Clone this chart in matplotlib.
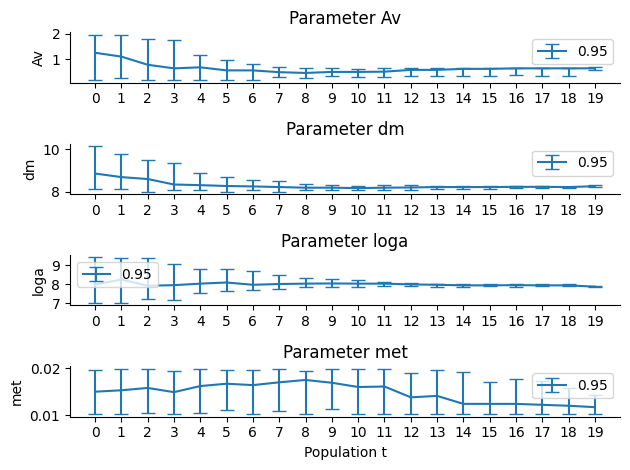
import matplotlib
matplotlib.use("Agg")
import matplotlib.pyplot as plt
import numpy as np

t = list(range(20))

av_mean = [1.25, 1.10, 0.78, 0.64, 0.68, 0.56, 0.56, 0.49, 0.46, 0.50, 0.50, 0.51, 0.58, 0.58, 0.62, 0.62, 0.64, 0.64, 0.64, 0.64]
av_hi   = [1.96, 1.96, 1.80, 1.73, 1.16, 0.96, 0.82, 0.70, 0.66, 0.66, 0.62, 0.66, 0.66, 0.66, 0.66, 0.66, 0.66, 0.66, 0.66, 0.69]
av_lo   = [0.17, 0.27, 0.20, 0.17, 0.17, 0.20, 0.17, 0.29, 0.28, 0.33, 0.32, 0.31, 0.35, 0.35, 0.35, 0.35, 0.37, 0.35, 0.35, 0.57]

dm_mean = [8.86, 8.69, 8.60, 8.34, 8.31, 8.27, 8.25, 8.22, 8.19, 8.19, 8.17, 8.19, 8.20, 8.22, 8.22, 8.22, 8.23, 8.23, 8.22, 8.26]
dm_hi   = [10.16, 9.79, 9.48, 9.37, 8.88, 8.71, 8.57, 8.52, 8.38, 8.31, 8.27, 8.31, 8.31, 8.27, 8.27, 8.27, 8.27, 8.27, 8.24, 8.30]
dm_lo   = [8.11, 8.11, 8.00, 8.06, 8.06, 8.00, 8.06, 8.00, 8.06, 8.06, 8.08, 8.06, 8.08, 8.14, 8.14, 8.14, 8.17, 8.16, 8.19, 8.20]

loga_mean = [7.99, 8.26, 7.93, 7.96, 8.04, 8.10, 7.98, 8.02, 8.04, 8.05, 8.04, 8.04, 8.00, 7.98, 7.95, 7.95, 7.96, 7.95, 7.95, 7.88]
loga_hi   = [9.42, 9.37, 9.37, 9.05, 8.81, 8.81, 8.70, 8.47, 8.32, 8.26, 8.21, 8.10, 8.07, 8.04, 8.04, 8.00, 8.04, 8.00, 8.00, 7.93]
loga_lo   = [7.02, 7.02, 7.23, 7.19, 7.54, 7.65, 7.70, 7.75, 7.88, 7.88, 7.88, 7.93, 7.91, 7.88, 7.88, 7.89, 7.88, 7.89, 7.91, 7.86]

met_mean = [0.0150, 0.0153, 0.0158, 0.0149, 0.0162, 0.0167, 0.0164, 0.0170, 0.0175, 0.0169, 0.0160, 0.0161, 0.0138, 0.0141, 0.0124, 0.0124, 0.0124, 0.0122, 0.0120, 0.0117]
met_hi   = [0.0197, 0.0199, 0.0199, 0.0195, 0.0199, 0.0197, 0.0197, 0.0199, 0.0195, 0.0199, 0.0199, 0.0199, 0.0190, 0.0197, 0.0193, 0.0170, 0.0178, 0.0172, 0.0157, 0.0142]
met_lo   = [0.01015, 0.01015, 0.01036, 0.01015, 0.01036, 0.0111, 0.01015, 0.0109, 0.01015, 0.0113, 0.01015, 0.01015, 0.01015, 0.01015, 0.01015, 0.01015, 0.01015, 0.01015, 0.01015, 0.01015]

params = [
    ("Av", av_mean, av_lo, av_hi, "upper right"),
    ("dm", dm_mean, dm_lo, dm_hi, "upper right"),
    ("loga", loga_mean, loga_lo, loga_hi, "upper left"),
    ("met", met_mean, met_lo, met_hi, "upper right"),
]

fig, axes = plt.subplots(4, 1, figsize=(6.4, 4.8), dpi=100)
for ax, (name, m, lo, hi, loc) in zip(axes, params):
    m = np.array(m); lo = np.array(lo); hi = np.array(hi)
    ax.errorbar(t, m, yerr=[m - lo, hi - m], capsize=5, color="#1f77b4", label="0.95")
    ax.set_title(f"Parameter {name}")
    ax.set_ylabel(name)
    ax.set_xticks(t)
    ax.spines["top"].set_visible(False)
    ax.spines["right"].set_visible(False)
    ax.legend(loc=loc)
axes[0].set_yticks([1, 2])
axes[1].set_yticks([8, 10])
axes[2].set_yticks([7, 8, 9])
axes[3].set_yticks([0.01, 0.02])
axes[-1].set_xlabel("Population t")
fig.tight_layout()
fig.savefig("out.png", bbox_inches="tight")
